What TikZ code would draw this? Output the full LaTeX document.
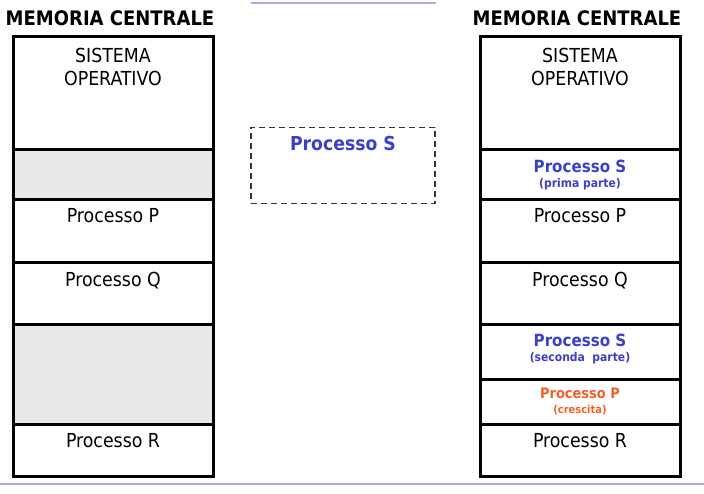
\documentclass[tikz,border=0pt]{standalone}
\usepackage{fontspec}
\setmainfont{DejaVu Sans Condensed}
\definecolor{procblue}{RGB}{60,64,200}
\definecolor{procorange}{RGB}{240,96,42}
\definecolor{freegray}{RGB}{232,232,232}
\definecolor{rulepurple}{RGB}{170,170,232}
\tikzset{
  cell/.style={draw=black, line width=3pt, minimum width=200pt, inner sep=0pt, outer sep=0pt},
  freecell/.style={cell, fill=freegray},
  celltext/.style={anchor=north, inner sep=0pt, align=center, font=\fontsize{19.3}{23.5}\selectfont},
  title/.style={inner sep=0pt, font=\fontsize{20}{22}\selectfont\bfseries},
  bluebig/.style={inner sep=0pt, text=procblue, font=\fontsize{16.8}{18}\selectfont\bfseries},
  bluesmall/.style={inner sep=0pt, text=procblue, font=\fontsize{12}{13}\selectfont\bfseries},
  orangebig/.style={inner sep=0pt, text=procorange, font=\fontsize{14.4}{16}\selectfont\bfseries},
  orangesmall/.style={inner sep=0pt, text=procorange, font=\fontsize{11}{12}\selectfont\bfseries},
  dashbox/.style={draw=black!80, line width=1.4pt, dash pattern=on 6pt off 4pt, minimum width=184pt, minimum height=76pt, inner sep=0pt},
  rulestyle/.style={draw=rulepurple, line width=1.2pt}
}
\begin{document}
\begin{tikzpicture}[x=1pt,y=-1pt]
\useasboundingbox (0,0) rectangle (704,494);
% rules
\coordinate (tl) at (251,3);
\coordinate (tr) at (436,3);
\coordinate (bl) at (0,484);
\coordinate (br) at (704,484);
\draw[rulestyle] (tl) -- (tr);
\draw[rulestyle] (bl) -- (br);
% titles
\node[title] (t1) at (110,18) {MEMORIA CENTRALE};
\node[title] (t2) at (577,18) {MEMORIA CENTRALE};
% left column
\node[cell, minimum height=113pt] (l1) at (113,93.5) {};
\node[freecell, minimum height=50pt] (l2) at (113,175) {};
\node[cell, minimum height=63pt] (l3) at (113,231.5) {};
\node[cell, minimum height=61pt] (l4) at (113,293.5) {};
\node[freecell, minimum height=100pt] (l5) at (113,374) {};
\node[cell, minimum height=52pt] (l6) at (113,450) {};
\node[celltext] (l1t) at ([yshift=-10.5pt]l1.north) {SISTEMA\\OPERATIVO};
\node[celltext] (l3t) at ([yshift=-8.5pt]l3.north) {Processo P};
\node[celltext] (l4t) at ([yshift=-9pt]l4.north) {Processo Q};
\node[celltext] (l6t) at ([yshift=-9.5pt]l6.north) {Processo R};
% dashed incoming process
\node[dashbox] (s) at (343,165.5) {};
\node[inner sep=0pt, text=procblue, font=\fontsize{19.2}{21}\selectfont\bfseries] (st) at (343,144) {Processo S};
% right column
\node[cell, minimum height=113pt] (r1) at (580,93.5) {};
\node[cell, minimum height=50pt] (r2) at (580,175) {};
\node[cell, minimum height=63pt] (r3) at (580,231.5) {};
\node[cell, minimum height=61pt] (r4) at (580,293.5) {};
\node[cell, minimum height=55pt] (r5) at (580,351.5) {};
\node[cell, minimum height=45pt] (r6) at (580,401.5) {};
\node[cell, minimum height=52pt] (r7) at (580,450) {};
\node[celltext] (r1t) at ([yshift=-10.5pt]r1.north) {SISTEMA\\OPERATIVO};
\node[bluebig] (r2a) at (580,166) {Processo S};
\node[bluesmall] (r2b) at (580,184.5) {(prima parte)};
\node[celltext] (r3t) at ([yshift=-8.5pt]r3.north) {Processo P};
\node[celltext] (r4t) at ([yshift=-9pt]r4.north) {Processo Q};
\node[bluebig] (r5a) at (580,340) {Processo S};
\node[bluesmall] (r5b) at (580,358) {(seconda\ \ parte)};
\node[orangebig] (r6a) at (580,393.5) {Processo P};
\node[orangesmall] (r6b) at (580,410) {(crescita)};
\node[celltext] (r7t) at ([yshift=-9.5pt]r7.north) {Processo R};
\end{tikzpicture}
\end{document}
